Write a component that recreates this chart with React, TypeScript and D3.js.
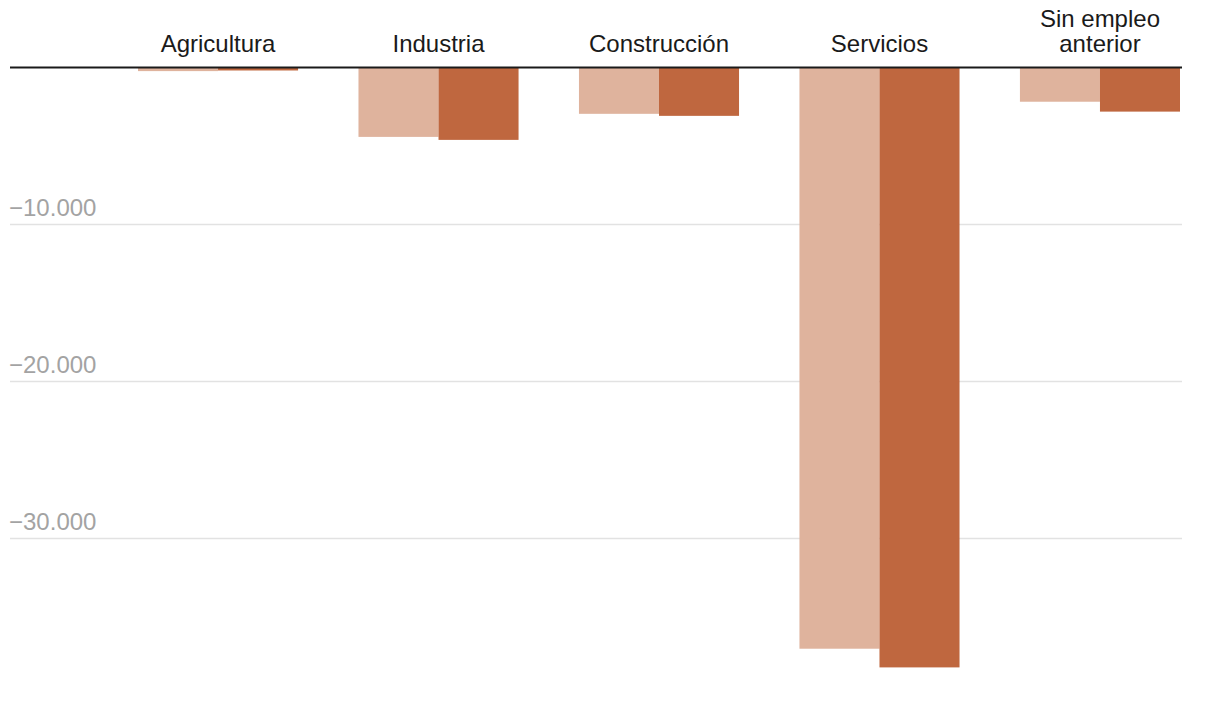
import React from "react";
import * as d3 from "d3";

const categories = ["Agricultura", "Industria", "Construcción", "Servicios", "Sin empleo anterior"];
const categoryLines = [["Agricultura"], ["Industria"], ["Construcción"], ["Servicios"], ["Sin empleo", "anterior"]];
const seriesNames = ["Serie 1", "Serie 2"];
const seriesA = [-230, -4420, -2950, -37020, -2180];
const seriesB = [-190, -4610, -3080, -38210, -2810];
const yTicks = [-10000, -20000, -30000];
const colors = ["#dfb39d", "#bf673f"];

const W = 1220;
const H = 718;

export default function App() {
  const x0 = d3.scaleBand<string>().domain(categories).range([138, 1180]).paddingInner(0.274).paddingOuter(0);
  const x1 = d3.scaleBand<string>().domain(seriesNames).range([0, x0.bandwidth()]).padding(0);
  const y = d3.scaleLinear().domain([0, -40000]).range([67.5, 67.5 + 4 * 157]);
  const fmt = (v: number) => "\u2212" + d3.format(",")(Math.abs(v)).replace(/,/g, ".");
  const values = [seriesA, seriesB];
  const font = "'Liberation Sans', Arial, Helvetica, sans-serif";
  return (
    <svg width={W} height={H} style={{ position: "absolute", left: 0, top: 0, background: "#fff" }} fontFamily={font}>
      {yTicks.map((t) => (
        <g key={t}>
          <line x1={10} x2={1182} y1={y(t)} y2={y(t)} stroke="#e2e2e2" strokeWidth={1.5} />
          <text x={9} y={y(t) - 8.5} fontSize={24} fill="#a3a3a3">{fmt(t)}</text>
        </g>
      ))}
      {categories.map((c, i) => (
        <g key={c}>
          {seriesNames.map((s, j) => {
            const v = values[j][i];
            return (
              <rect key={s} x={(x0(c) as number) + (x1(s) as number)} width={x1.bandwidth()} y={y(0)} height={y(v) - y(0)} fill={colors[j]} />
            );
          })}
        </g>
      ))}
      <line x1={10} x2={1182} y1={y(0)} y2={y(0)} stroke="#1a1a1a" strokeWidth={2} />
      {categories.map((c, i) => {
        const lines = categoryLines[i];
        const cx = (x0(c) as number) + x0.bandwidth() / 2;
        return (
          <text key={c} x={cx} textAnchor="middle" fontSize={24} fill="#1a1a1a">
            {lines.map((l, k) => (
              <tspan key={k} x={cx} y={52 - (lines.length - 1 - k) * 25}>{l}</tspan>
            ))}
          </text>
        );
      })}
    </svg>
  );
}
